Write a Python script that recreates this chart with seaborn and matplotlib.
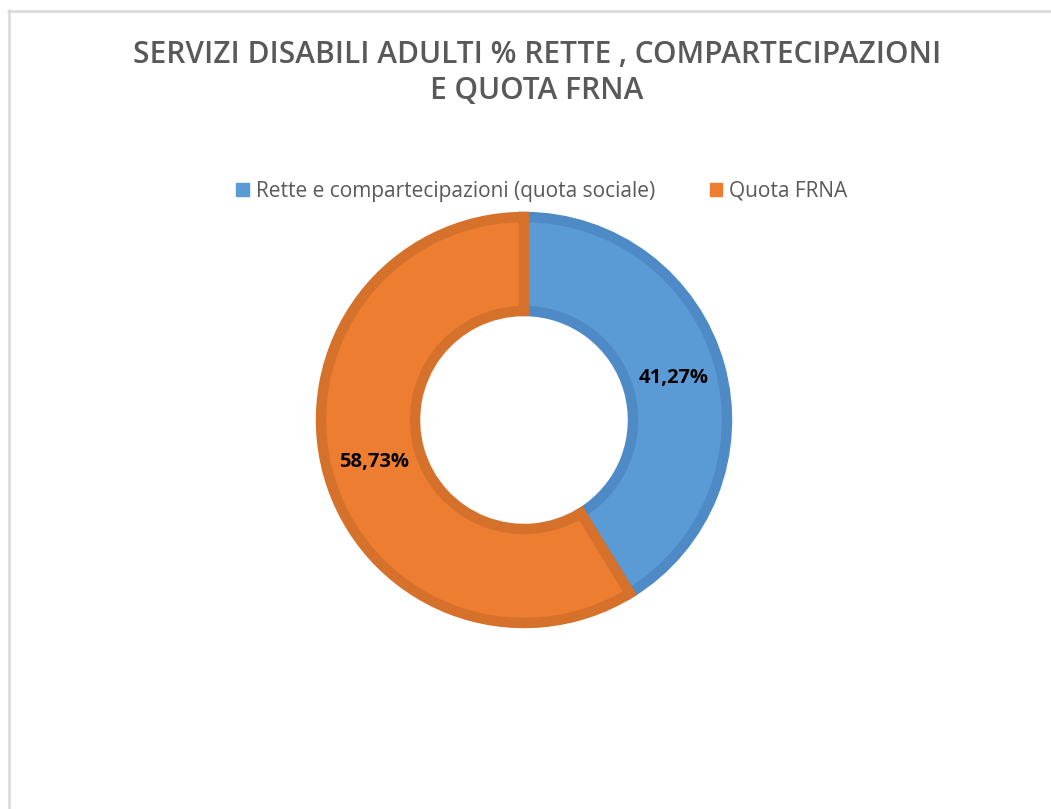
import matplotlib
matplotlib.use("Agg")
import matplotlib.pyplot as plt
import seaborn as sns
import numpy as np
from matplotlib.lines import Line2D
from matplotlib.patches import Patch

categories = ["Rette e compartecipazioni (quota sociale)", "Quota FRNA"]
values = [41.27, 58.73]
labels = ["41,27%", "58,73%"]
title = "SERVIZI DISABILI ADULTI % RETTE , COMPARTECIPAZIONI\nE QUOTA FRNA"

sns.set_theme(style="white")
plt.rcParams['font.family'] = ['Open Sans', 'DejaVu Sans']

colors = ["#5B9BD5", "#ED7D31"]
edges = ["#4E8AC5", "#D6712B"]

W, H = 1051, 809
fig = plt.figure(figsize=(W / 100, H / 100), dpi=100)
fig.patch.set_facecolor("white")

R = 203.0
side = 2.2 * R
cx, cy = 524, H - 420
ax = fig.add_axes([(cx - side / 2) / W, (cy - side / 2) / H, side / W, side / H])

wedges, _ = ax.pie(values, colors=colors, startangle=90, counterclock=False,
                   radius=1.0, wedgeprops=dict(width=0.463, linewidth=7.5))
for w, e in zip(wedges, edges):
    w.set_edgecolor(e)
    w.set_joinstyle("miter")

for w, lab in zip(wedges, labels):
    ang = np.deg2rad((w.theta1 + w.theta2) / 2)
    r = 0.765
    ax.text(r * np.cos(ang), r * np.sin(ang), lab, ha="center", va="center",
            fontsize=14.5, fontweight="bold", color="black")
ax.set_xlim(-1.1, 1.1)
ax.set_ylim(-1.1, 1.1)
ax.set_aspect("equal")
ax.axis("off")

fig.text(537 / W, 1 - 73 / H, title, ha="center", va="center",
         fontsize=21.5, fontweight="semibold", color="#595959", linespacing=1.3)

handles = [Patch(facecolor=c, edgecolor=c) for c in colors]
fig.legend(handles, categories, loc="center", bbox_to_anchor=(542 / W, 1 - 191 / H),
           ncol=2, frameon=False, fontsize=15, labelcolor="#595959",
           handlelength=0.6, handleheight=0.6, handletextpad=0.35, columnspacing=2.6)

fig.add_artist(Line2D([9 / W, 9 / W], [0, 1 - 10 / H], color="#D9D9D9", lw=1.8,
                      transform=fig.transFigure))
fig.add_artist(Line2D([8 / W, 1], [1 - 11 / H, 1 - 11 / H], color="#D9D9D9", lw=1.8,
                      transform=fig.transFigure))

fig.savefig("out.png", dpi=100)
